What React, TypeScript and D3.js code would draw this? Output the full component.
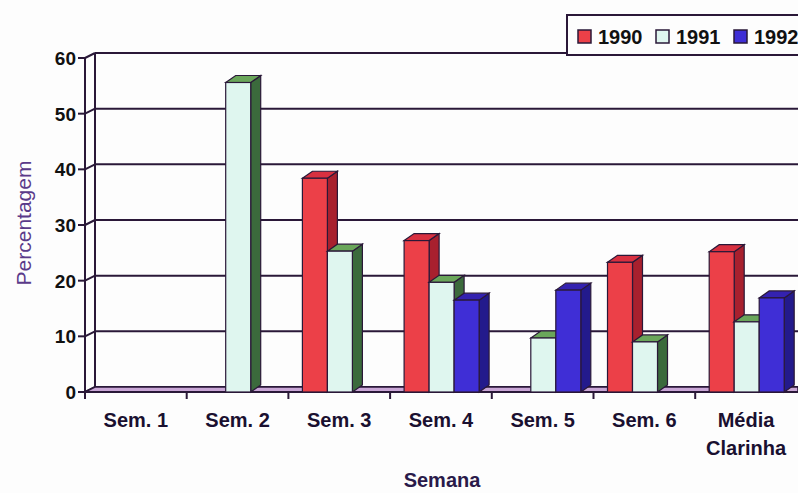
import React from "react";
import * as d3 from "d3";

const categories = ["Sem. 1", "Sem. 2", "Sem. 3", "Sem. 4", "Sem. 5", "Sem. 6", "Média\nClarinha"];
const seriesNames = ["1990", "1991", "1992"];
const v1990 = [0, 0, 38.4, 27.2, 0, 23.3, 25.2];
const v1991 = [0, 55.6, 25.3, 19.7, 9.7, 9.0, 12.6];
const v1992 = [0, 0, 0, 16.5, 18.3, 0, 16.9];
const yTicks = [0, 10, 20, 30, 40, 50, 60];

const front = ["#ec4048", "#dff6ef", "#3f2ed6"];
const side = ["#a8202e", "#3b6a3c", "#231a8c"];
const topc = ["#d83040", "#6aa65a", "#3422b0"];
const ink = "#2a1838";

export default function App() {
  const W = 798, H = 493;
  const x = d3.scaleBand<string>().domain(categories).range([85, 85 + 7 * 101.7]);
  const inner = d3.scaleBand<string>().domain(seriesNames).range([14, 89]);
  const y = d3.scaleLinear().domain([0, 60]).range([392, 58]);
  const wdx = 10, wdy = -5;
  const bdx = 10, bdy = -7;
  const data = [v1990, v1991, v1992];
  const font = "Arial, 'Liberation Sans', sans-serif";

  return (
    <svg width={W} height={H} style={{ position: "absolute", left: 0, top: 0, background: "#fdfdfd" }}>
      {yTicks.map((t) => (
        <g key={t}>
          <line x1={85 + wdx} x2={W} y1={y(t) + wdy} y2={y(t) + wdy} stroke={ink} strokeWidth={2} />
          <line x1={85} x2={85 + wdx} y1={y(t)} y2={y(t) + wdy} stroke={ink} strokeWidth={2} />
          <line x1={78} x2={85} y1={y(t)} y2={y(t)} stroke={ink} strokeWidth={2} />
          <text x={76} y={y(t) + 7} textAnchor="end" fontFamily={font} fontWeight="bold" fontSize={19} fill="#111">{t}</text>
        </g>
      ))}
      <line x1={85 + wdx} x2={85 + wdx} y1={y(60) + wdy} y2={y(0) + wdy} stroke={ink} strokeWidth={2} />
      <line x1={85} x2={85} y1={y(60)} y2={y(0)} stroke={ink} strokeWidth={2} />
      <polygon points={`85,${y(0)} ${85 + wdx},${y(0) + wdy} ${W},${y(0) + wdy} ${W},${y(0)}`} fill="#c9a6d6" stroke={ink} strokeWidth={1.5} />
      <line x1={85} x2={W} y1={y(0)} y2={y(0)} stroke={ink} strokeWidth={2} />
      {categories.map((c) => (
        <line key={c} x1={x(c)!} x2={x(c)!} y1={y(0)} y2={y(0) + 7} stroke={ink} strokeWidth={2} />
      ))}
      {categories.map((c, ci) =>
        seriesNames.map((s, si) => {
          const val = data[si][ci];
          if (val <= 0) return null;
          const x0 = x(c)! + inner(s)!;
          const w = inner.bandwidth();
          const yt = y(val);
          const yb = y(0);
          return (
            <g key={c + s} stroke={ink} strokeWidth={1.2}>
              <polygon points={`${x0 + w},${yt} ${x0 + w + bdx},${yt + bdy} ${x0 + w + bdx},${yb + bdy} ${x0 + w},${yb}`} fill={side[si]} />
              <polygon points={`${x0},${yt} ${x0 + bdx},${yt + bdy} ${x0 + w + bdx},${yt + bdy} ${x0 + w},${yt}`} fill={topc[si]} />
              <rect x={x0} y={yt} width={w} height={yb - yt} fill={front[si]} />
            </g>
          );
        })
      )}
      {categories.map((c) => (
        <text key={c} x={x(c)! + x.bandwidth() / 2} y={427} textAnchor="middle" fontFamily={font} fontWeight="bold" fontSize={20} fill="#1a1030">
          {c.split("\n").map((line, i) => (
            <tspan key={i} x={x(c)! + x.bandwidth() / 2} dy={i === 0 ? 0 : 28}>{line}</tspan>
          ))}
        </text>
      ))}
      <text x={442} y={487} textAnchor="middle" fontFamily={font} fontWeight="bold" fontSize={20} fill="#2a1a4a">Semana</text>
      <text transform="translate(31,223) rotate(-90)" textAnchor="middle" fontFamily={font} fontSize={21} fill="#5a3a8a">Percentagem</text>
      <rect x={567} y={15} width={240} height={40} fill="#fdfdfd" stroke={ink} strokeWidth={2} />
      {seriesNames.map((s, i) => (
        <g key={s}>
          <rect x={578 + i * 78} y={30} width={13} height={13} fill={front[i]} stroke={ink} strokeWidth={1.5} />
          <text x={598 + i * 78} y={44} fontFamily={font} fontWeight="bold" fontSize={20} fill="#111">{s}</text>
        </g>
      ))}
    </svg>
  );
}
